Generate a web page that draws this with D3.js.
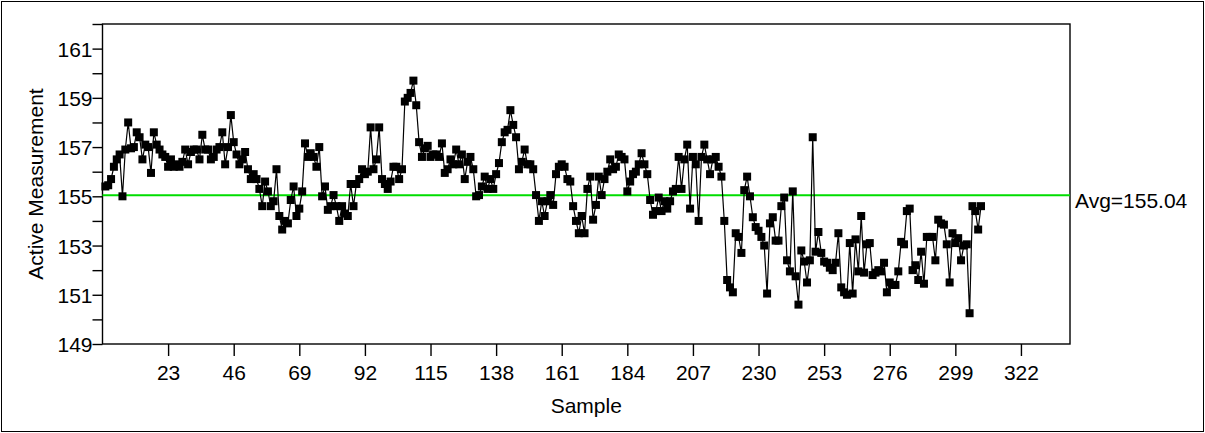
<!DOCTYPE html>
<html><head><meta charset="utf-8">
<script src="https://cdn.jsdelivr.net/npm/d3@7"></script>
<style>body{margin:0;background:#fff} svg text{font-family:"Liberation Sans",Arial,sans-serif}</style>
</head><body><svg id="c" width="1205" height="433"></svg>
<script>
const values = [
155.4,155.45,155.7,156.2,156.5,156.7,155.0,156.9,158.0,156.95,
157.0,157.6,157.4,156.5,157.1,157.0,155.95,157.6,157.1,156.9,
156.7,156.6,156.2,156.5,156.2,156.3,156.2,156.4,156.9,156.3,
156.8,156.9,156.9,156.5,157.5,156.9,156.9,156.5,156.6,156.9,
157.0,157.6,156.3,157.0,158.3,157.2,156.7,156.3,156.5,156.8,
156.1,155.7,155.9,155.7,155.3,154.6,155.6,155.2,154.6,154.8,
156.1,154.2,153.65,154.0,153.9,154.85,155.4,154.2,154.5,155.2,
157.15,156.6,156.75,156.6,156.2,157.0,155.0,155.4,154.45,154.6,
155.05,154.6,154.0,154.6,154.3,154.2,155.5,154.6,155.5,155.7,
156.1,155.9,156.0,157.8,156.1,156.5,157.8,155.7,155.5,155.3,
155.6,156.2,156.2,155.7,156.1,158.85,159.0,159.2,159.7,158.7,
157.2,156.6,156.95,157.05,156.6,156.7,156.7,156.6,157.15,155.95,
156.1,156.5,156.3,156.9,156.3,156.7,155.7,156.4,156.6,156.1,
155.0,155.05,155.4,155.8,155.3,155.7,155.3,155.9,156.35,157.2,
157.6,157.7,158.5,157.9,157.4,156.1,156.4,156.9,156.3,156.3,
156.1,155.05,154.0,154.8,154.2,154.8,155.05,154.65,155.9,156.2,
156.3,156.2,155.7,155.6,154.6,154.0,153.5,154.2,153.5,155.3,
155.8,154.05,154.65,155.8,155.05,155.7,156.0,156.5,156.1,156.2,
156.7,156.6,156.5,155.2,155.6,155.9,156.0,156.3,156.75,156.3,
155.9,154.85,154.25,154.4,154.95,154.4,154.8,154.5,154.8,155.2,
155.3,156.6,155.3,156.5,157.1,154.5,156.6,156.3,154.0,156.6,
157.1,156.5,155.9,156.5,156.6,156.2,155.8,154.0,151.6,151.3,
151.1,153.5,153.35,152.7,155.25,155.8,155.0,154.15,153.75,153.6,
153.35,153.0,151.05,153.9,154.15,153.2,153.2,154.6,154.95,152.4,
151.95,155.2,151.75,150.6,152.8,152.35,151.5,152.4,157.4,152.75,
153.55,152.7,152.35,152.3,152.1,152.0,152.3,153.5,151.3,151.1,
151.0,153.1,151.05,153.25,151.95,154.2,151.9,153.05,153.1,151.8,
151.9,152.0,151.95,152.3,151.1,151.5,151.4,151.4,151.95,153.15,
153.05,154.4,154.5,152.0,152.2,151.6,152.75,151.45,153.35,153.35,
153.35,152.4,154.05,153.9,153.85,153.05,151.5,153.5,153.1,153.3,
152.4,153.0,153.05,150.25,154.6,154.4,153.65,154.6
];
const samples = values.map((v, i) => i + 1);
const xTicks = [23,46,69,92,115,138,161,184,207,230,253,276,299,322];
const yTicks = [149,151,153,155,157,159,161];
const yMinorTicks = [150,152,154,156,158,160,162];
const average = 155.04;
const avgLabel = "Avg=155.04";
const xTitle = "Sample";
const yTitle = "Active Measurement";

const svg = d3.select("#c");
const L = 102.5, R = 1070, T = 24, B = 344;
const x = d3.scaleLinear().domain([0, 339.2]).range([L, R]);
const y = d3.scaleLinear().domain([149, 162]).range([B, T]);

svg.append("rect").attr("x",1.5).attr("y",1.5).attr("width",1202).attr("height",430)
  .attr("fill","none").attr("stroke","#000").attr("stroke-width",1);

const fs = 21;
const yAx = svg.append("g").attr("transform",`translate(${L},0)`)
  .call(d3.axisLeft(y).tickValues(yTicks).tickSize(10).tickFormat(d3.format("d")));
svg.append("g").attr("transform",`translate(${L},0)`)
  .call(d3.axisLeft(y).tickValues(yMinorTicks).tickSize(10).tickFormat(""));
const xAx = svg.append("g").attr("transform",`translate(0,${B})`)
  .call(d3.axisBottom(x).tickValues(xTicks).tickSize(12).tickFormat(d3.format("d")));
svg.selectAll(".tick line").attr("stroke","#000").attr("stroke-width",1.4);
svg.selectAll(".domain").remove();
yAx.selectAll("text").attr("font-size",fs).attr("fill","#000").attr("x",-10).attr("dy","0.36em");
xAx.selectAll("text").attr("font-size",fs).attr("fill","#000").attr("y",21).attr("dy","0.71em");

svg.append("rect").attr("x",L).attr("y",T).attr("width",R-L).attr("height",B-T)
  .attr("fill","none").attr("stroke","#000").attr("stroke-width",1.4);

svg.append("line").attr("x1",L).attr("x2",R).attr("y1",y(average)).attr("y2",y(average))
  .attr("stroke","#00dd00").attr("stroke-width",2);
svg.append("text").attr("x",R+5).attr("y",y(average)+13).attr("font-size",fs).text(avgLabel);

const line = d3.line().x((d,i)=>x(samples[i])).y(d=>y(d));
svg.append("path").datum(values).attr("d",line).attr("fill","none").attr("stroke","#000").attr("stroke-width",1.2);
const ms = 8;
svg.append("g").selectAll("rect").data(values).join("rect")
  .attr("x",(d,i)=>x(samples[i])-ms/2).attr("y",d=>y(d)-ms/2)
  .attr("width",ms).attr("height",ms).attr("fill","#000");

svg.append("text").attr("x",(L+R)/2).attr("y",413).attr("text-anchor","middle").attr("font-size",fs).text(xTitle);
svg.append("text").attr("transform",`translate(43,${(T+B)/2}) rotate(-90)`).attr("text-anchor","middle")
  .attr("font-size",fs).text(yTitle);
</script></body></html>
